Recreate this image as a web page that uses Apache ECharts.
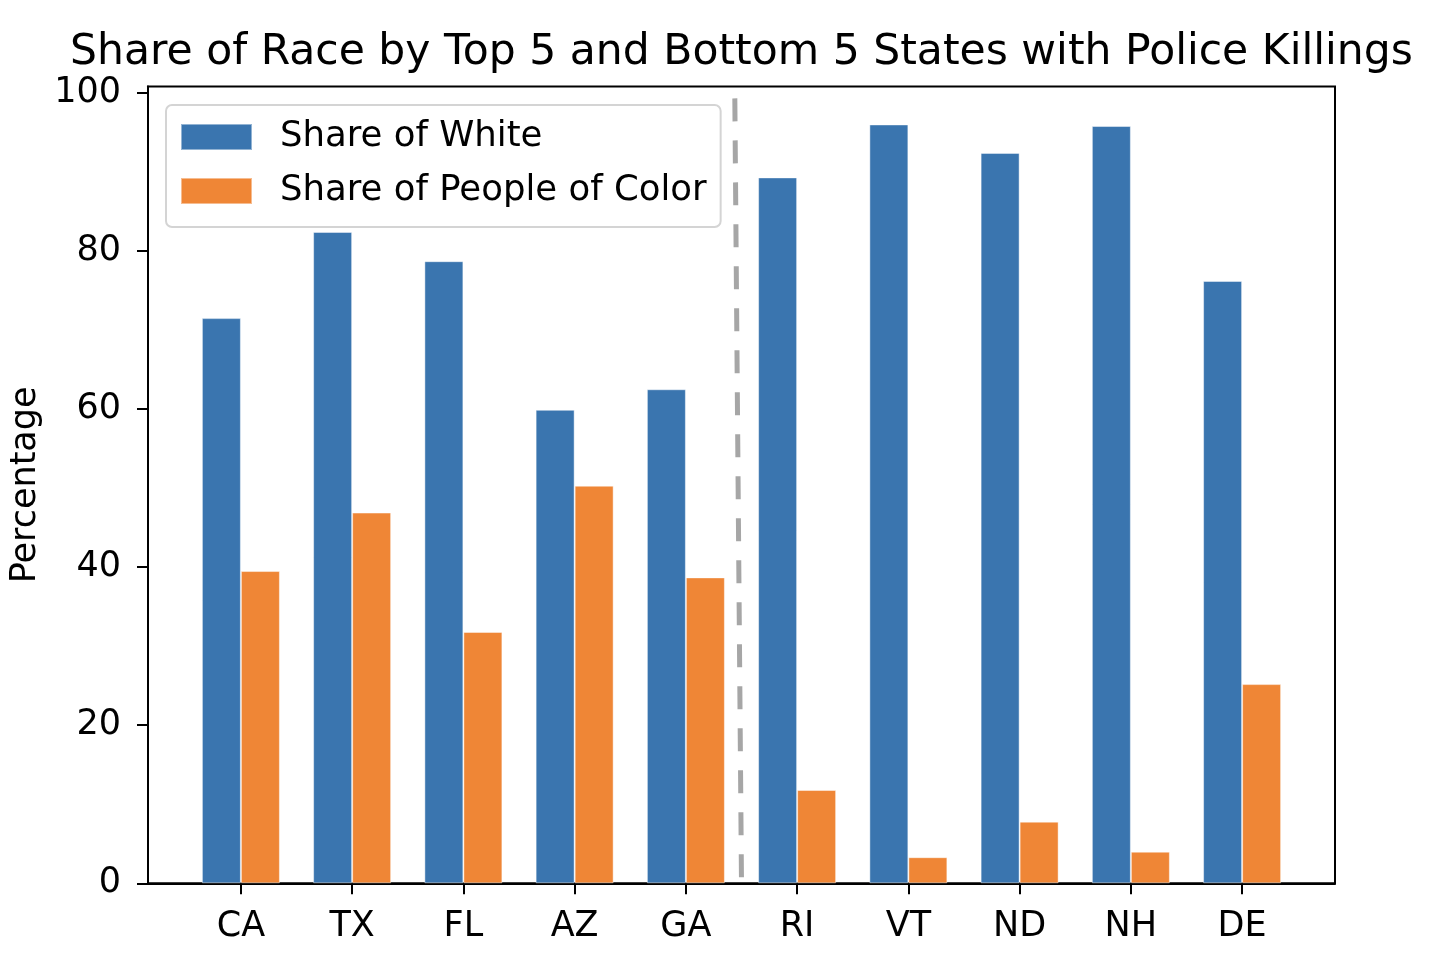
<!DOCTYPE html>
<html>
<head>
<meta charset="utf-8">
<script src="https://cdn.jsdelivr.net/npm/echarts@6/dist/echarts.min.js"></script>
<style>
html,body{margin:0;padding:0;background:#fff;}
#chart{width:1430px;height:966px;}
</style>
</head>
<body>
<div id="chart"></div>
<script>
const states = ['CA','TX','FL','AZ','GA','RI','VT','ND','NH','DE'];
const shareWhite = [71.5, 82.4, 78.7, 59.9, 62.5, 89.3, 96.0, 92.4, 95.8, 76.2];
const shareColor = [39.5, 46.9, 31.8, 50.3, 38.7, 11.8, 3.3, 7.8, 4.0, 25.2];
const yTicks = [0, 20, 40, 60, 80, 100];
const xTicks = [0, 1, 2, 3, 4, 5, 6, 7, 8, 9];
const dividerTop = [4.44, 99.3];
const dividerBottom = [4.5, 0];

const FONT = 'DejaVu Sans';
const chart = echarts.init(document.getElementById('chart'), null, {renderer: 'canvas'});

chart.setOption({
  animation: false,
  backgroundColor: '#ffffff',
  textStyle: {fontFamily: FONT},
  title: {
    text: 'Share of Race by Top 5 and Bottom 5 States with Police Killings',
    left: 741.5, top: 31, textAlign: 'center', padding: 0,
    textStyle: {fontFamily: FONT, fontSize: 42.5, fontWeight: 'normal', color: '#000'}
  },
  legend: {
    orient: 'vertical',
    left: 166, top: 105,
    padding: [14, 14, 18, 14],
    itemWidth: 71, itemHeight: 26, itemGap: 18,
    backgroundColor: '#fff',
    borderColor: '#d4d4d4', borderWidth: 2, borderRadius: 6,
    icon: 'rect',
    textStyle: {fontFamily: FONT, fontSize: 35.5, lineHeight: 36, color: '#000', padding: [0, 0, 0, 23]},
    data: ['Share of White', 'Share of People of Color']
  },
  grid: {
    left: 148, right: 95, top: 86.5, bottom: 82.7,
    show: true, borderColor: '#000', borderWidth: 2, backgroundColor: 'transparent',
    containLabel: false
  },
  xAxis: {
    type: 'value', min: -0.835, max: 9.835,
    splitLine: {show: false},
    axisLine: {show: true, onZero: false, lineStyle: {color: '#000', width: 2}},
    axisTick: {show: true, inside: false, length: 11, lineStyle: {color: '#000', width: 2}, customValues: xTicks},
    axisLabel: {
      customValues: xTicks, margin: 26,
      fontFamily: FONT, fontSize: 35, color: '#000',
      formatter: v => states[Math.round(v)]
    }
  },
  yAxis: {
    type: 'value', min: 0, max: 100.8,
    name: 'Percentage', nameLocation: 'middle', nameRotate: 90, nameGap: 97,
    nameTextStyle: {fontFamily: FONT, fontSize: 35, color: '#000'},
    splitLine: {show: false},
    axisLine: {show: true, onZero: false, lineStyle: {color: '#000', width: 2}},
    axisTick: {show: true, inside: false, length: 11, lineStyle: {color: '#000', width: 2}, customValues: yTicks},
    axisLabel: {customValues: yTicks, margin: 27, fontFamily: FONT, fontSize: 35, color: '#000', padding: [5, 0, 0, 0]}
  },
  series: [
    {
      name: 'Share of White', type: 'bar',
      barWidth: 39, barGap: '0%',
      itemStyle: {color: '#3a75af', borderColor: 'rgba(255,255,255,0.45)', borderWidth: 1},
      data: xTicks.map((x, i) => [x, shareWhite[i]])
    },
    {
      name: 'Share of People of Color', type: 'bar',
      barWidth: 39, barGap: '0%',
      itemStyle: {color: '#ef8636', borderColor: 'rgba(255,255,255,0.45)', borderWidth: 1},
      data: xTicks.map((x, i) => [x, shareColor[i]])
    },
    {
      name: 'divider', type: 'line', data: [], silent: true,
      markLine: {
        silent: true, symbol: ['none', 'none'], label: {show: false},
        lineStyle: {color: '#a6a6a6', width: 5, type: [23, 19]},
        data: [[{coord: dividerTop}, {coord: dividerBottom}]]
      }
    }
  ]
});
</script>
</body>
</html>
